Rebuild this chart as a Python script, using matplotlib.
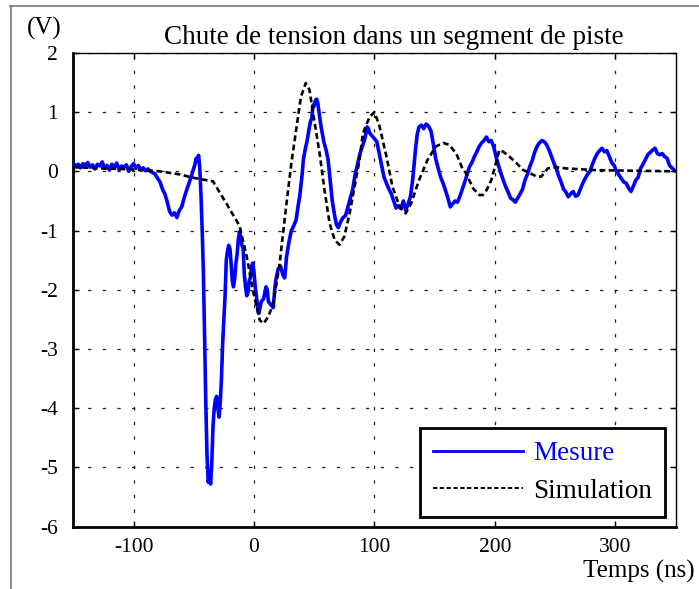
import numpy as np
import matplotlib
matplotlib.use('Agg')
import matplotlib.pyplot as plt
from matplotlib.lines import Line2D

plt.rcParams['font.family'] = ['Liberation Serif', 'DejaVu Serif']
plt.rcParams['axes.unicode_minus'] = False

#----------------------------------------------------------------
# Donnees (temps en ns, tension en V)
#----------------------------------------------------------------
t_mesure = [-150, -148, -146, -144, -142, -140, -138, -136, -134, -132, -130, -128, -126, -124, -122,
            -120, -118, -116, -114, -112, -110, -108, -106, -104, -102, -100, -98, -96, -94, -92, -90,
            -88, -86, -84, -82, -80, -78, -76, -74, -72, -70, -68, -66, -64, -62, -60, -58, -56, -54,
            -52, -50, -49, -48, -47, -46, -45, -44, -43, -42, -41, -40, -39, -38, -37, -36, -35, -34,
            -33, -32, -31, -30, -29, -28, -27, -26, -25, -24, -23, -22, -21, -20, -19, -18, -17, -16,
            -15, -14, -13, -12, -11, -10, -9, -8, -7, -6, -5, -4, -3, -2, -1, 0, 1, 2, 3, 4, 5, 6, 8,
            10, 11, 12, 14, 16, 17, 18, 20, 22, 24, 25.5, 27, 29, 31, 33, 35, 36.5, 38, 40, 41, 43, 44,
            46, 47, 48, 49, 50, 51, 52, 53, 54, 55, 56, 58, 60, 61.5, 63, 65, 67, 68.5, 70, 72, 74, 76,
            78, 80, 82, 84, 86, 88, 90, 92, 94, 95, 96, 98, 100, 102, 104, 106, 108, 110, 112, 114, 116,
            118, 120, 122, 124, 126, 128, 130, 132, 134, 135.5, 137, 139, 141, 143, 145, 147, 149, 151,
            153, 155, 157, 159, 161, 163, 165, 167, 169, 171, 173, 175, 177, 179, 181, 183, 185, 187,
            189, 191, 193, 195, 197, 199, 201, 203, 205, 207, 209, 211, 213, 215, 217, 219, 221, 223,
            225, 227, 229, 231, 233, 235, 237, 239, 241, 243, 245, 247, 249, 251, 253, 255, 257, 259,
            261, 263, 265, 267, 269, 271, 273, 275, 277, 279, 281, 283, 285, 287, 289, 291, 293, 295,
            297, 299, 301, 303, 305, 307, 309, 311, 313, 315, 317, 319, 321, 323, 325, 327, 329, 331,
            333, 335, 337, 339, 341, 343, 345, 347, 349]
v_mesure = [0.14, 0.08, 0.12, 0.06, 0.13, 0.10, 0.15, 0.07, 0.11, 0.04, 0.12, 0.09, 0.16, 0.05, 0.10,
            0.02, 0.12, 0.06, 0.14, 0.03, 0.09, 0.07, 0.11, 0.00, 0.08, 0.13, 0.05, 0.10, 0.02, 0.06, 0.01,
            0.04, 0.00, -0.02, -0.05, -0.12, -0.18, -0.30, -0.38, -0.52, -0.68, -0.74, -0.70, -0.78, -0.66,
            -0.60, -0.45, -0.32, -0.20, -0.08, 0.05, 0.12, 0.22, 0.18, 0.27, 0.05, -0.40, -1.0, -1.7, -2.8,
            -3.9, -4.8, -5.25, -5.15, -5.28, -4.9, -4.3, -4.0, -3.85, -3.8, -4.0, -4.15, -3.9, -3.5, -2.9,
            -2.5, -2.1, -1.5, -1.35, -1.25, -1.3, -1.55, -1.85, -1.95, -1.8, -1.55, -1.4, -1.15, -1.02,
            -1.1, -1.25, -1.3, -1.75, -1.95, -2.1, -2.05, -1.85, -1.8, -1.6, -1.55, -1.7, -1.95, -2.1, -2.3,
            -2.4, -2.3, -2.2, -2.15, -1.95, -2.0, -2.2, -2.25, -2.3, -2.05, -1.85, -1.65, -1.6, -1.75,
            -1.8, -1.45, -1.2, -1.0, -0.92, -0.82, -0.6, -0.42, -0.05, 0.2, 0.42, 0.5, 0.75, 0.85, 0.9,
            1.12, 1.1, 1.2, 1.22, 1.15, 1.0, 0.85, 0.72, 0.5, 0.35, 0.2, -0.1, -0.5, -0.75, -0.9, -0.95,
            -0.85, -0.78, -0.75, -0.6, -0.45, -0.3, -0.05, 0.12, 0.3, 0.42, 0.55, 0.75, 0.72, 0.65, 0.6,
            0.55, 0.5, 0.3, 0.1, -0.1, -0.2, -0.3, -0.38, -0.5, -0.62, -0.58, -0.63, -0.5, -0.66, -0.55,
            -0.42, -0.1, 0.35, 0.62, 0.75, 0.78, 0.72, 0.8, 0.76, 0.68, 0.45, 0.2, 0.05, -0.1, -0.2, -0.32,
            -0.45, -0.6, -0.55, -0.5, -0.52, -0.42, -0.3, -0.18, -0.05, 0.08, 0.15, 0.25, 0.33, 0.42,
            0.48, 0.52, 0.58, 0.5, 0.52, 0.42, 0.25, 0.1, -0.03, -0.15, -0.26, -0.35, -0.45, -0.48, -0.52,
            -0.45, -0.38, -0.3, -0.15, -0.05, 0.08, 0.18, 0.32, 0.42, 0.48, 0.52, 0.5, 0.45, 0.36, 0.25,
            0.14, 0.05, -0.08, -0.18, -0.3, -0.35, -0.43, -0.38, -0.34, -0.42, -0.4, -0.3, -0.2, -0.12,
            -0.05, 0.0, 0.12, 0.22, 0.3, 0.35, 0.39, 0.33, 0.35, 0.25, 0.15, 0.1, 0.0, -0.06, -0.12,
            -0.18, -0.2, -0.28, -0.34, -0.25, -0.15, -0.1, 0.05, 0.12, 0.2, 0.28, 0.32, 0.36, 0.39, 0.3,
            0.28, 0.3, 0.25, 0.22, 0.1, 0.06, 0.02]

t_simul = [-150, -125, -100, -78, -62, -50, -34, -23, -12, -6, -1, 4.7, 8, 12, 16, 21, 27, 31, 35, 39,
           43, 46, 50, 54.5, 58.6, 62.8, 67, 71, 75, 79.4, 83.5, 87.6, 90.4, 96, 100, 104, 110, 115, 121,
           126, 130.5, 137, 144, 151, 157, 162, 168, 173, 176, 182, 187, 190, 193, 197, 200, 203.7, 207,
           212, 218, 223, 229, 235, 238.3, 241, 244, 251, 259, 284, 350]
v_simul = [0.07, 0.05, 0.03, 0.0, -0.05, -0.11, -0.17, -0.54, -0.92, -1.44, -2.0, -2.51, -2.57, -2.45,
           -2.23, -1.61, -0.54, 0.13, 0.70, 1.26, 1.49, 1.38, 0.87, 0.30, -0.32, -0.88, -1.16, -1.24,
           -1.1, -0.71, -0.26, 0.19, 0.64, 0.92, 1.0, 0.78, 0.25, -0.26, -0.6, -0.71, -0.54, -0.15, 0.19,
           0.42, 0.48, 0.45, 0.30, 0.05, -0.03, -0.29, -0.40, -0.4, -0.32, -0.15, 0.07, 0.36, 0.33, 0.25,
           0.14, 0.03, -0.03, -0.09, -0.09, -0.03, 0.05, 0.07, 0.05, 0.02, 0.0]

x_ticks = [-100, 0, 100, 200, 300]
x_tick_labels = ['-100', '0', '100', '200', '300']
y_ticks = [-6, -5, -4, -3, -2, -1, 0, 1, 2]
y_tick_labels = ['-6', '-5', '-4', '-3', '-2', '-1', '0', '1', '2']

#----------------------------------------------------------------
fig = plt.figure(figsize=(6.99, 5.89), dpi=100)
ax = fig.add_axes([0.1049, 0.1058, 0.8615, 0.8044])

ax.plot(t_mesure, v_mesure, color='#0000ff', linewidth=2.6, label='Mesure', zorder=3)
ax.plot(t_simul, v_simul, color='black', linewidth=1.9, linestyle=(0, (2.2, 1.3)),
        label='Simulation', zorder=4)

ax.set_xlim(-150, 350)
ax.set_ylim(-6, 2)
ax.set_xticks(x_ticks)
ax.set_xticklabels(x_tick_labels)
ax.set_yticks(y_ticks)
ax.set_yticklabels(y_tick_labels)

ax.grid(True, color='#222222', linewidth=0.9, linestyle=(0, (2.7, 9)))
ax.tick_params(direction='in', length=4, width=1, top=True, right=True,
               labelsize=15.5, colors='black')
ax.tick_params(axis='y', pad=11)
ax.tick_params(axis='x', pad=8)

for s in ['left', 'bottom']:
    ax.spines[s].set_linewidth(2.0)
for s in ['top', 'right']:
    ax.spines[s].set_linewidth(1.0)

fig.text(0.563, 0.937, 'Chute de tension dans un segment de piste', fontsize=19.5,
         ha='center', va='center')
fig.text(0.064, 0.952, '(V)', fontsize=18, ha='center', va='center')
fig.text(0.994, 0.029, 'Temps (ns)', fontsize=18, ha='right', va='center')

# cadre de la figure (haut et gauche)
fig.add_artist(Line2D([10/699, 1.0], [1 - 6/589, 1 - 6/589], color='#777777', linewidth=1.2))
fig.add_artist(Line2D([10.5/699, 10.5/699], [0.0, 1 - 6/589], color='#777777', linewidth=1.2))

handles = [Line2D([], [], color='#0000ff', linewidth=2.0),
           Line2D([], [], color='black', linewidth=1.4, linestyle=(0, (2.2, 1.3)))]
leg = ax.legend(handles, ['Mesure', 'Simulation'], loc='lower right',
                bbox_to_anchor=(0.983, 0.02), fontsize=19.5, fancybox=False,
                framealpha=1, edgecolor='black', handlelength=3.3, handletextpad=0.37,
                borderpad=0.5, labelspacing=0.45, borderaxespad=0)
leg.get_frame().set_linewidth(2.0)
leg.get_texts()[0].set_color('#0000ff')

plt.savefig('out.png', dpi=100)
